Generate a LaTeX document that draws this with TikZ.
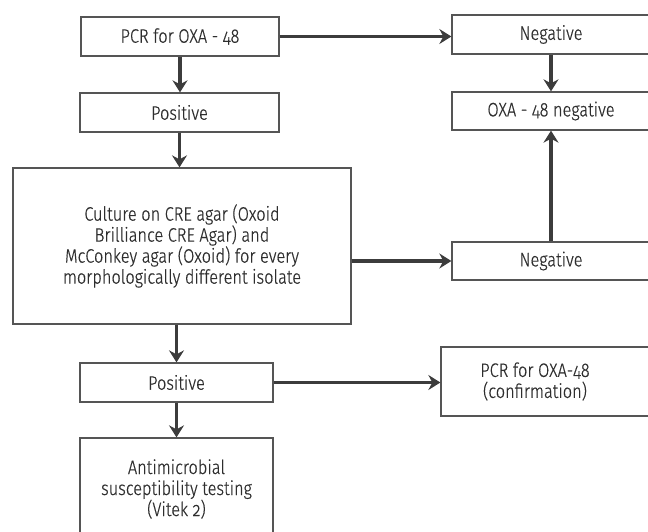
\documentclass[tikz,border=0pt]{standalone}
\usepackage{fontspec}
\setmainfont{Fira Sans}[UprightFont=* Light, Numbers=OldStyle, FakeStretch=0.84, FakeBold=0.5]
\usetikzlibrary{arrows.meta}
\definecolor{boxline}{HTML}{555555}
\definecolor{arrowc}{HTML}{3C3C3C}
\definecolor{txtc}{HTML}{2E2E2E}
\tikzset{
  box/.style={draw=boxline, line width=1.3pt, rectangle, inner sep=0pt,
    text=txtc, align=center, font=\fontsize{19.5pt}{21pt}\selectfont},
  txt/.style={text=txtc, align=center, inner sep=0pt, font=\fontsize{19.5pt}{21pt}\selectfont},
  arr/.style={draw=arrowc, line width=3.6pt, -{Stealth[length=12pt,width=15pt,inset=4pt]}}
}
\begin{document}
\begin{tikzpicture}[x=1pt,y=-1pt]
\useasboundingbox (0,0) rectangle (648,532);
\clip (0,0) rectangle (648,532);
\node[box, minimum width=198, minimum height=39] (box1) at (180,36.5) {PCR for OXA - 48};
\node[box, minimum width=199, minimum height=39] (pos1) at (179.5,112.5) {Positive};
\node[box, minimum width=198, minimum height=39] (neg1) at (551,34.5) {Negative};
\node[box, minimum width=198, minimum height=38] (oxaneg) at (551,111) {OXA - 48 negative};
\node[box, minimum width=338, minimum height=156] (culture) at (182,246) {Culture on CRE agar (Oxoid\\Brilliance CRE Agar) and\\McConkey agar (Oxoid) for every\\morphologically different isolate};
\node[box, minimum width=198, minimum height=38] (neg2) at (551,261) {Negative};
\node[box, minimum width=193, minimum height=39] (pos2) at (176.5,382.5) {Positive};
\node[box, minimum width=209, minimum height=69] (pcr2) at (545.5,381.5) {};
\node[txt] (pcr2t) at (535,381.5) {PCR for OXA-48\\(confirmation)};
\node[box, minimum width=193, minimum height=102] (anti) at (176.5,489) {Antimicrobial\\susceptibility testing\\(Vitek 2)};
\draw[arr] (box1.south) -- (box1.south |- pos1.north);
\draw[arr] (box1.east) -- (box1.east -| neg1.west);
\draw[arr] (neg1.south) -- (oxaneg.north);
\draw[arr] (pos1.south) -- (pos1.south |- culture.north);
\draw[arr] (neg2.west -| culture.east) -- (neg2.west);
\draw[arr] (neg2.north) -- (oxaneg.south);
\draw[arr] (pos2.north |- culture.south) -- (pos2.north);
\draw[arr] (pos2.east) -- (pos2.east -| pcr2.west);
\draw[arr] (pos2.south) -- (anti.north);
\end{tikzpicture}
\end{document}
